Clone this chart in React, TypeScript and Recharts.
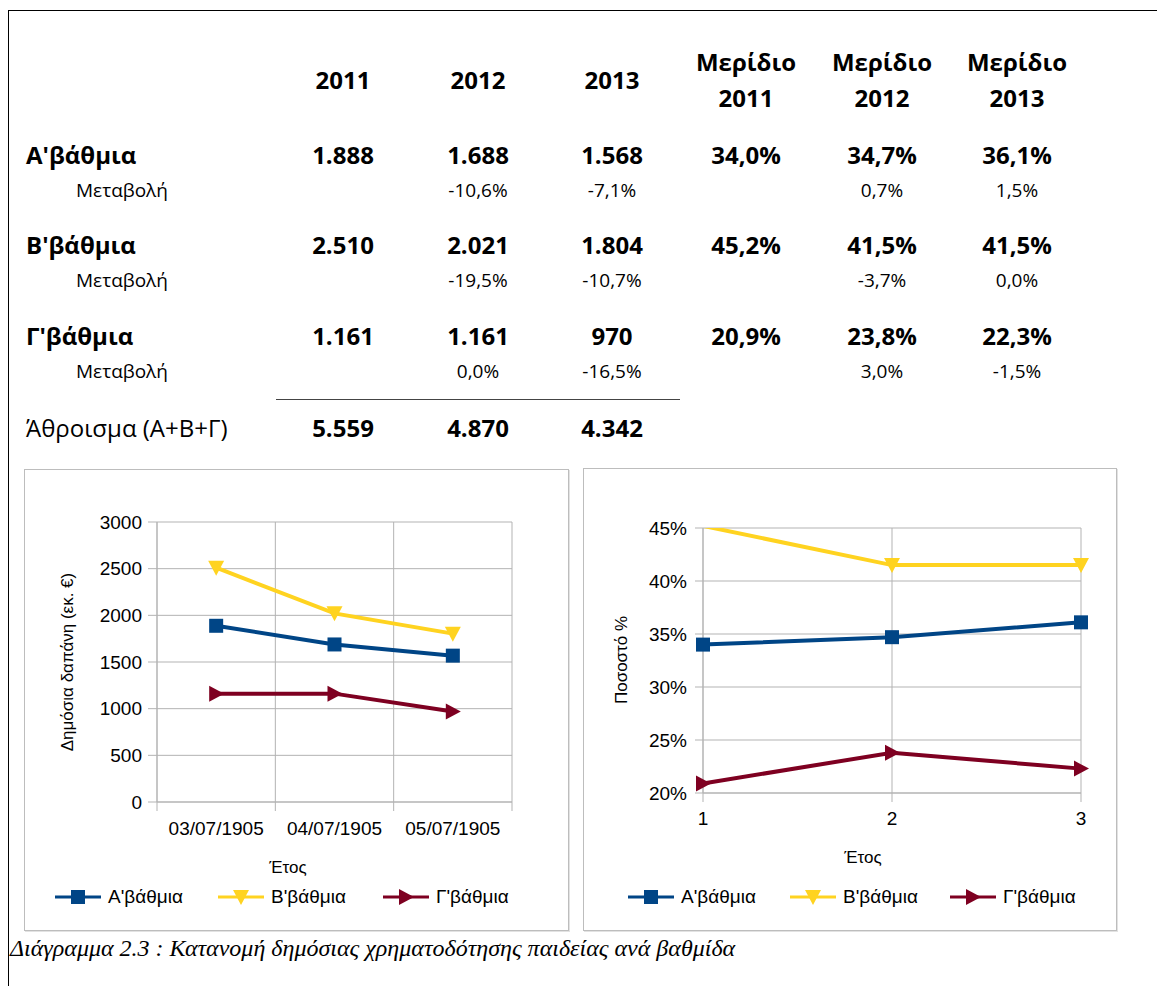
import { LineChart, Line, XAxis, YAxis, CartesianGrid, ReferenceLine } from "recharts";

// table + chart values
const years = ["2011", "2012", "2013"];
const dateLabels = ["03/07/1905", "04/07/1905", "05/07/1905"];
const indexLabels = ["1", "2", "3"];
const levels = ["Α'βάθμια", "Β'βάθμια", "Γ'βάθμια"];

const spendA = [1888, 1688, 1568];
const spendB = [2510, 2021, 1804];
const spendC = [1161, 1161, 970];
const totals = [5559, 4870, 4342];

const changeA = ["", "-10,6%", "-7,1%"];
const changeB = ["", "-19,5%", "-10,7%"];
const changeC = ["", "0,0%", "-16,5%"];

const shareA = [34.0, 34.7, 36.1];
const shareB = [45.2, 41.5, 41.5];
const shareC = [20.9, 23.8, 22.3];

const shareChangeA = ["", "0,7%", "1,5%"];
const shareChangeB = ["", "-3,7%", "0,0%"];
const shareChangeC = ["", "3,0%", "-1,5%"];

const spendTicks = [0, 500, 1000, 1500, 2000, 2500, 3000];
const shareTicks = [20, 25, 30, 35, 40, 45];
const SHARE_MAX = 45;

const BLUE = "#004586";
const YELLOW = "#ffd320";
const MAROON = "#7e0021";
const GRID = "#b3b3b3";
const CHART_FONT = "'Liberation Sans', Arial, sans-serif";
const TABLE_FONT = "'Open Sans', sans-serif";

const fmtThousands = (n: number) => String(n).replace(/\B(?=(\d{3})+(?!\d))/g, ".");
const fmtShare = (v: number) => v.toFixed(1).replace(".", ",") + "%";

const spendData = dateLabels.map((label, i) => ({
  label,
  a: spendA[i],
  b: spendB[i],
  c: spendC[i],
}));

const shareData = indexLabels.map((label, i) => ({
  label,
  a: shareA[i],
  b: shareB[i],
  bMark: shareB[i] <= SHARE_MAX ? shareB[i] : null,
  c: shareC[i],
}));

const tableRows = [
  { name: levels[0], values: spendA, changes: changeA, shares: shareA, shareChanges: shareChangeA },
  { name: levels[1], values: spendB, changes: changeB, shares: shareB, shareChanges: shareChangeB },
  { name: levels[2], values: spendC, changes: changeC, shares: shareC, shareChanges: shareChangeC },
];

const colX = [343, 478, 612, 746, 882, 1017];
const rowY = [155, 245, 336];

const squareDot = (props: any) => {
  const { cx, cy, index } = props;
  if (cx == null || cy == null) return <g key={index} />;
  return <rect key={index} x={cx - 7} y={cy - 7} width={14} height={14} fill={BLUE} />;
};

const downTriangle = (props: any) => {
  const { cx, cy, index } = props;
  if (cx == null || cy == null) return <g key={index} />;
  return (
    <polygon
      key={index}
      points={`${cx - 8},${cy - 7} ${cx + 8},${cy - 7} ${cx},${cy + 8}`}
      fill={YELLOW}
    />
  );
};

const rightTriangle = (props: any) => {
  const { cx, cy, index } = props;
  if (cx == null || cy == null) return <g key={index} />;
  return (
    <polygon
      key={index}
      points={`${cx - 7},${cy - 8} ${cx - 7},${cy + 8} ${cx + 8},${cy}`}
      fill={MAROON}
    />
  );
};

// ticks sit between the band edges, tick marks on the edges
const BandTick = (props: any) => {
  const { x, y, payload, index, visibleTicksCount } = props;
  const half = payload && payload.offset ? payload.offset : 59;
  return (
    <g>
      <line x1={x - half} x2={x - half} y1={y} y2={y + 9} stroke={GRID} />
      {index === visibleTicksCount - 1 && (
        <line x1={x + half} x2={x + half} y1={y} y2={y + 9} stroke={GRID} />
      )}
      <text x={x} y={y + 33} textAnchor="middle" fill="#000" fontSize={19} fontFamily={CHART_FONT}>
        {payload.value}
      </text>
    </g>
  );
};

const legendItems = [
  { name: levels[0], color: BLUE, marker: "square" },
  { name: levels[1], color: YELLOW, marker: "down" },
  { name: levels[2], color: MAROON, marker: "right" },
];

const LegendMark = ({ color, marker }: { color: string; marker: string }) => (
  <svg width={46} height={20} style={{ display: "block" }}>
    <line x1={0} x2={46} y1={10} y2={10} stroke={color} strokeWidth={3} />
    {marker === "square" && <rect x={16} y={3} width={14} height={14} fill={color} />}
    {marker === "down" && <polygon points="15,3 31,3 23,18" fill={color} />}
    {marker === "right" && <polygon points="16,2 16,18 31,10" fill={color} />}
  </svg>
);

const Legend = ({ left, top, starts }: { left: number; top: number; starts: number[] }) => (
  <>
    {legendItems.map((item, i) => (
      <div
        key={item.name}
        style={{
          position: "absolute",
          left: left + starts[i],
          top,
          display: "flex",
          alignItems: "center",
          gap: 7,
          fontFamily: CHART_FONT,
          fontSize: 19,
          whiteSpace: "nowrap",
        }}
      >
        <LegendMark color={item.color} marker={item.marker} />
        <span>{item.name}</span>
      </div>
    ))}
  </>
);

const TextAt = ({
  x,
  y,
  children,
  bold = false,
  size = 19,
  center = true,
}: {
  x: number;
  y: number;
  children: any;
  bold?: boolean;
  size?: number;
  center?: boolean;
}) => (
  <div
    style={{
      position: "absolute",
      left: x,
      top: y,
      transform: center ? "translate(-50%, -50%)" : "translateY(-50%)",
      whiteSpace: "nowrap",
      fontFamily: TABLE_FONT,
      fontWeight: bold ? 700 : 400,
      fontSize: size,
      lineHeight: 1.2,
      color: "#000",
    }}
  >
    {children}
  </div>
);

const boxStyle = (left: number, top: number, width: number, height: number) => ({
  position: "absolute" as const,
  left,
  top,
  width,
  height,
  boxSizing: "border-box" as const,
  border: "1px solid #bdbdbd",
  boxShadow: "1px 1px 0 #e2e2e2",
});

const axisTitle = (x: number, y: number, text: string, rotate: boolean) => (
  <div
    style={{
      position: "absolute",
      left: x,
      top: y,
      transform: `translate(-50%, -50%)${rotate ? " rotate(-90deg)" : ""}`,
      whiteSpace: "nowrap",
      fontFamily: CHART_FONT,
      fontSize: 17,
      color: "#000",
    }}
  >
    {text}
  </div>
);

export default function App() {
  return (
    <div
      style={{
        position: "fixed",
        left: 0,
        top: 0,
        width: 1157,
        height: 986,
        background: "#fff",
        overflow: "hidden",
      }}
    >
      <div
        style={{
          position: "absolute",
          left: 8,
          top: 10,
          width: 1200,
          height: 1000,
          borderLeft: "1px solid #000",
          borderTop: "1px solid #000",
        }}
      />

      {/* table header */}
      {years.map((y, i) => (
        <TextAt key={y} x={colX[i]} y={80} bold size={24}>
          {y}
        </TextAt>
      ))}
      {years.map((y, i) => (
        <div key={"s" + y}>
          <TextAt x={colX[i + 3]} y={62} bold size={24}>
            Μερίδιο
          </TextAt>
          <TextAt x={colX[i + 3]} y={98} bold size={24}>
            {y}
          </TextAt>
        </div>
      ))}

      {/* table body */}
      {tableRows.map((row, r) => (
        <div key={row.name}>
          <TextAt x={26} y={rowY[r]} bold size={24} center={false}>
            {row.name}
          </TextAt>
          <TextAt x={76} y={rowY[r] + 35} size={19} center={false}>
            Μεταβολή
          </TextAt>
          {row.values.map((v, i) => (
            <TextAt key={"v" + i} x={colX[i]} y={rowY[r]} bold size={24}>
              {fmtThousands(v)}
            </TextAt>
          ))}
          {row.changes.map((c, i) => (
            <TextAt key={"c" + i} x={colX[i]} y={rowY[r] + 35} size={19}>
              {c}
            </TextAt>
          ))}
          {row.shares.map((s, i) => (
            <TextAt key={"s" + i} x={colX[i + 3]} y={rowY[r]} bold size={24}>
              {fmtShare(s)}
            </TextAt>
          ))}
          {row.shareChanges.map((c, i) => (
            <TextAt key={"sc" + i} x={colX[i + 3]} y={rowY[r] + 35} size={19}>
              {c}
            </TextAt>
          ))}
        </div>
      ))}
      <div style={{ position: "absolute", left: 276, top: 399, width: 404, height: 1, background: "#444" }} />
      <TextAt x={26} y={428} size={24} center={false}>
        Άθροισμα (Α+Β+Γ)
      </TextAt>
      {totals.map((t, i) => (
        <TextAt key={"t" + i} x={colX[i]} y={428} bold size={24}>
          {fmtThousands(t)}
        </TextAt>
      ))}

      {/* left chart: spending */}
      <div style={boxStyle(24, 469, 545, 462)} />
      <div style={{ position: "absolute", left: 24, top: 469 }}>
        <LineChart
          width={544}
          height={462}
          data={spendData}
          margin={{ top: 53, right: 56, bottom: 0, left: 0 }}
        >
          <CartesianGrid vertical={false} stroke={GRID} />
          {dateLabels.map((l) => (
            <ReferenceLine key={l} x={l} position="start" stroke={GRID} />
          ))}
          <ReferenceLine x={dateLabels[2]} position="end" stroke={GRID} />
          <XAxis
            dataKey="label"
            scale="band"
            interval={0}
            height={129}
            tickLine={false}
            tickSize={0}
            tickMargin={0}
            axisLine={{ stroke: GRID }}
            tick={BandTick}
          />
          <YAxis
            domain={[0, 3000]}
            ticks={spendTicks}
            interval={0}
            width={133}
            tickSize={9}
            tickMargin={6}
            axisLine={{ stroke: GRID }}
            tickLine={{ stroke: GRID }}
            tick={{ fill: "#000", fontSize: 19, fontFamily: CHART_FONT }}
          />
          <Line dataKey="b" stroke={YELLOW} strokeWidth={4} dot={downTriangle} isAnimationActive={false} />
          <Line dataKey="a" stroke={BLUE} strokeWidth={4} dot={squareDot} isAnimationActive={false} />
          <Line dataKey="c" stroke={MAROON} strokeWidth={4} dot={rightTriangle} isAnimationActive={false} />
        </LineChart>
      </div>
      {axisTitle(68, 662, "Δημόσια δαπάνη (εκ. €)", true)}
      {axisTitle(288, 868, "Έτος", false)}
      <Legend left={24} top={886} starts={[31, 194, 359]} />

      {/* right chart: shares */}
      <div style={boxStyle(583, 468, 534, 463)} />
      <div style={{ position: "absolute", left: 583, top: 468 }}>
        <LineChart
          width={534}
          height={463}
          data={shareData}
          margin={{ top: 60, right: 36, bottom: 0, left: 0 }}
        >
          <CartesianGrid stroke={GRID} />
          <XAxis
            dataKey="label"
            interval={0}
            height={138}
            tickSize={9}
            tickMargin={10}
            axisLine={{ stroke: GRID }}
            tickLine={{ stroke: GRID }}
            tick={{ fill: "#000", fontSize: 19, fontFamily: CHART_FONT }}
          />
          <YAxis
            domain={[20, 45]}
            ticks={shareTicks}
            interval={0}
            width={120}
            tickSize={8}
            tickMargin={8}
            tickFormatter={(v: number) => `${v}%`}
            axisLine={{ stroke: GRID }}
            tickLine={{ stroke: GRID }}
            tick={{ fill: "#000", fontSize: 19, fontFamily: CHART_FONT }}
          />
          <YAxis yAxisId="clip" hide domain={[20, 45]} allowDataOverflow />
          <Line yAxisId="clip" dataKey="b" stroke={YELLOW} strokeWidth={4} dot={false} isAnimationActive={false} />
          <Line dataKey="bMark" stroke="none" dot={downTriangle} isAnimationActive={false} />
          <Line dataKey="a" stroke={BLUE} strokeWidth={4} dot={squareDot} isAnimationActive={false} />
          <Line dataKey="c" stroke={MAROON} strokeWidth={4} dot={rightTriangle} isAnimationActive={false} />
        </LineChart>
      </div>
      {axisTitle(622, 660, "Ποσοστό %", true)}
      {axisTitle(863, 858, "Έτος", false)}
      <Legend left={583} top={886} starts={[45, 207, 367]} />

      <div
        style={{
          position: "absolute",
          left: 10,
          top: 948,
          transform: "translateY(-50%)",
          fontFamily: "'Liberation Serif', 'Times New Roman', serif",
          fontStyle: "italic",
          fontSize: 24,
          whiteSpace: "nowrap",
        }}
      >
        Διάγραμμα 2.3 : Κατανομή δημόσιας χρηματοδότησης παιδείας ανά βαθμίδα
      </div>
    </div>
  );
}
